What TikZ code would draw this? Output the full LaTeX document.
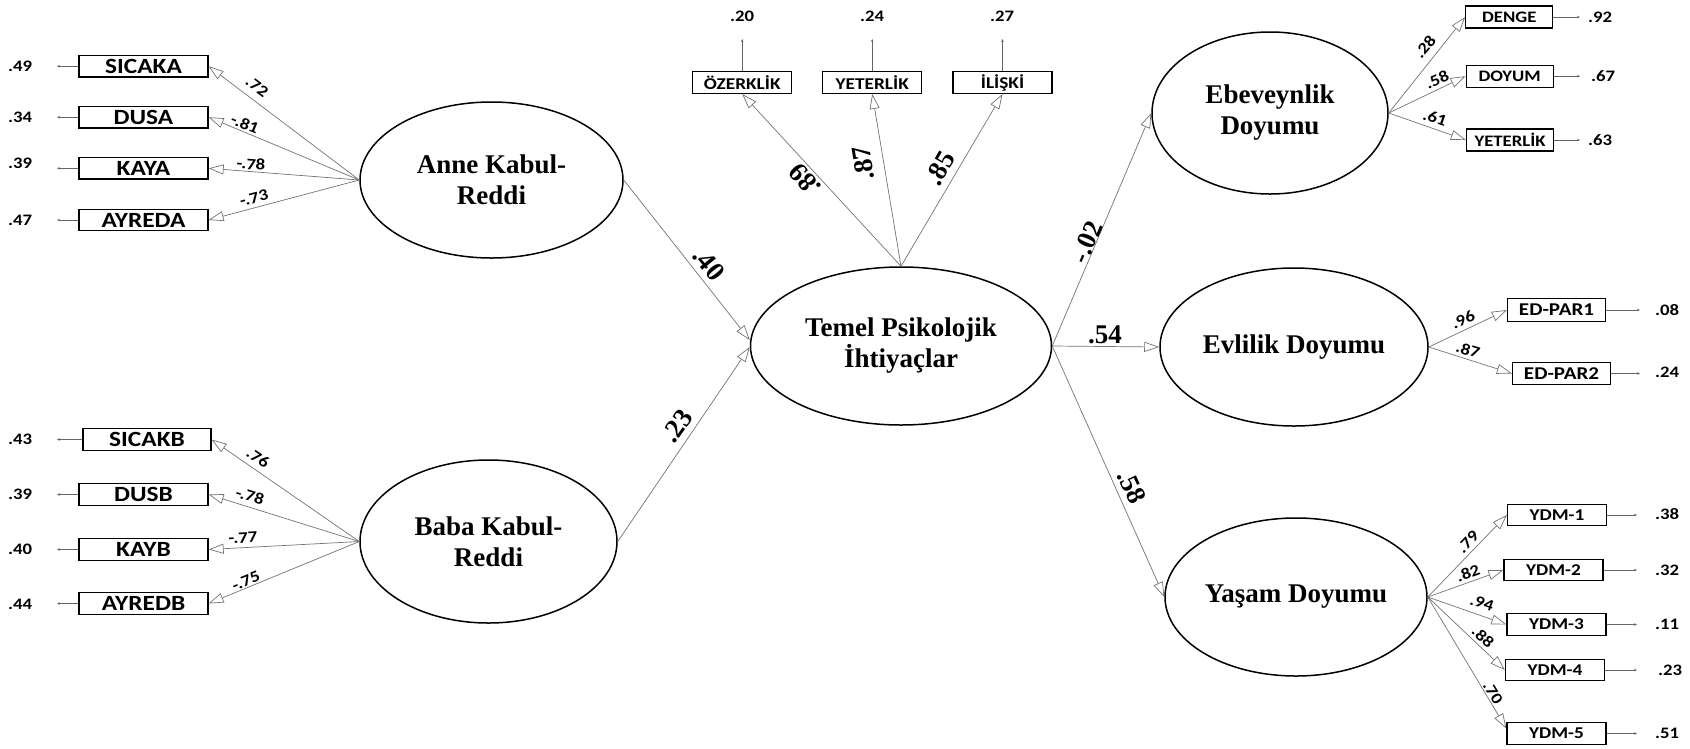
\documentclass[tikz,border=0pt]{standalone}
\usepackage{fontspec}
\setmainfont{Liberation Serif}
\newfontfamily\cb[FakeStretch=1.17]{Carlito}
\usetikzlibrary{shapes.geometric,arrows.meta}
\begin{document}
\begin{tikzpicture}[x=1pt,y=-1pt,
  lat/.style={ellipse,draw,line width=1.5pt,inner sep=0pt,align=center,
    font=\fontsize{27}{31}\selectfont\bfseries},
  obsL/.style={draw,line width=1.3pt,inner sep=0pt,minimum width=129pt,minimum height=21.5pt,
    font=\cb\fontsize{21.7}{22}\selectfont\bfseries},
  obsT/.style={draw,line width=1.3pt,inner sep=0pt,minimum width=99pt,minimum height=21.6pt,
    font=\cb\fontsize{16.5}{17}\selectfont\bfseries},
  obsE/.style={draw,line width=1.3pt,inner sep=0pt,minimum width=87pt,minimum height=22pt,
    font=\cb\fontsize{16}{17}\selectfont\bfseries},
  obsD/.style={draw,line width=1.3pt,inner sep=0pt,minimum width=98pt,minimum height=22.5pt,
    font=\cb\fontsize{18}{19}\selectfont\bfseries},
  obsY/.style={draw,line width=1.3pt,inner sep=0pt,minimum width=99pt,minimum height=21.5pt,
    font=\cb\fontsize{16.5}{17}\selectfont\bfseries},
  lnk/.style={draw=black!55,line width=0.7pt,-{Triangle[length=15pt,width=10pt,fill=white]}},
  res/.style={draw=black!60,line width=0.8pt,-{Stealth[length=3pt,width=2.5pt]}},
  cf/.style={inner sep=0pt,font=\fontsize{27}{27}\selectfont\bfseries},
  lf/.style={inner sep=0pt,font=\cb\fontsize{16}{16}\selectfont\bfseries}
]
\useasboundingbox (0,0) rectangle (1690,748);

% latent variables
\node[lat,minimum width=263pt,minimum height=156pt] (anne) at (491.5,180) {Anne Kabul-\\Reddi};
\node[lat,minimum width=257pt,minimum height=163pt] (baba) at (488.5,541.5) {Baba Kabul-\\Reddi};
\node[lat,minimum width=301pt,minimum height=158pt] (temel) at (901,346) {Temel Psikolojik\\İhtiyaçlar};
\node[lat,minimum width=236pt,minimum height=162pt] (ebe) at (1270,113) {Ebeveynlik\\Doyumu};
\node[lat,minimum width=268pt,minimum height=158pt] (evl) at (1294,347) {Evlilik Doyumu};
\node[lat,minimum width=262pt,minimum height=158pt] (yas) at (1296,597) {Yaşam Doyumu};

% left indicators
\node[obsL] (sicaka) at (143.5,66.2) {SICAKA};
\node[obsL] (dusa) at (143.5,117.2) {DUSA};
\node[obsL] (kaya) at (143.5,168.3) {KAYA};
\node[obsL] (ayreda) at (143.5,220) {AYREDA};
\node[obsL,minimum width=128pt] (sicakb) at (147,439.5) {SICAKB};
\node[obsL] (dusb) at (143.5,494.5) {DUSB};
\node[obsL] (kayb) at (143.5,549.5) {KAYB};
\node[obsL] (ayredb) at (143.5,603.5) {AYREDB};

% top indicators
\node[obsT] (ozer) at (742.2,82.5) {ÖZERKLİK};
\node[obsT] (yet) at (872.2,82.5) {YETERLİK};
\node[obsT] (ili) at (1002.5,82.5) {İLİŞKİ};

% right indicators
\node[obsE] (denge) at (1509.3,17) {DENGE};
\node[obsE] (doyum) at (1509.7,76.2) {DOYUM};
\node[obsE] (yetb) at (1510,140) {YETERLİK};
\node[obsD] (edp1) at (1556.5,310) {ED-PAR1};
\node[obsD] (edp2) at (1561.5,373.5) {ED-PAR2};
\node[obsY] (y1) at (1557,515) {YDM-1};
\node[obsY] (y2) at (1553.5,570) {YDM-2};
\node[obsY] (y3) at (1556.5,624.5) {YDM-3};
\node[obsY] (y4) at (1555,670) {YDM-4};
\node[obsY] (y5) at (1556.5,733.5) {YDM-5};

% loadings
\draw[lnk] (anne.west) -- (sicaka.east);
\draw[lnk] (anne.west) -- (dusa.east);
\draw[lnk] (anne.west) -- (kaya.east);
\draw[lnk] (anne.west) -- (ayreda.east);
\draw[lnk] (baba.west) -- (sicakb.east);
\draw[lnk] (baba.west) -- (dusb.east);
\draw[lnk] (baba.west) -- (kayb.east);
\draw[lnk] (baba.west) -- (ayredb.east);
\draw[lnk] (temel.north) -- (ozer.south);
\draw[lnk] (temel.north) -- (yet.south);
\draw[lnk] (temel.north) -- (ili.south);
\draw[lnk] (ebe.east) -- (denge.west);
\draw[lnk] (ebe.east) -- (doyum.west);
\draw[lnk] (ebe.east) -- (yetb.west);
\draw[lnk] (evl.east) -- (edp1.west);
\draw[lnk] (evl.east) -- (edp2.west);
\draw[lnk] (yas.east) -- (y1.west);
\draw[lnk] (yas.east) -- (y2.west);
\draw[lnk] (yas.east) -- (y3.west);
\draw[lnk] (yas.east) -- (y4.west);
\draw[lnk] (yas.east) -- ([yshift=5pt]y5.west);

% structural paths
\draw[lnk] (anne.east) -- ([yshift=6pt]temel.west);
\draw[lnk] (baba.east) -- ([yshift=-1pt]temel.west);
\draw[lnk] (temel.east) -- (ebe.west);
\draw[lnk] (temel.east) -- (evl.west);
\draw[lnk] (temel.east) -- (yas.west);

% residual arrows
\coordinate (ea1) at (57,66.2);
\coordinate (ea2) at (57,117.2);
\coordinate (ea3) at (57,168.3);
\coordinate (ea4) at (57,220);
\coordinate (eb1) at (57,439.5);
\coordinate (eb2) at (57,494.5);
\coordinate (eb3) at (57,549.5);
\coordinate (eb4) at (57,603.5);
\coordinate (et1) at (742.2,39);
\coordinate (et2) at (872.2,39);
\coordinate (et3) at (1002.5,39);
\coordinate (ee1) at (1580,17);
\coordinate (ee2) at (1580,76.2);
\coordinate (ee3) at (1580,140);
\coordinate (ed1) at (1640,310);
\coordinate (ed2) at (1640,373.5);
\coordinate (ey1) at (1637,515);
\coordinate (ey2) at (1637,570);
\coordinate (ey3) at (1637,624.5);
\coordinate (ey4) at (1637,670);
\coordinate (ey5) at (1637,733.5);
\draw[res] (sicaka.west) -- (ea1);
\draw[res] (dusa.west) -- (ea2);
\draw[res] (kaya.west) -- (ea3);
\draw[res] (ayreda.west) -- (ea4);
\draw[res] (sicakb.west) -- (eb1);
\draw[res] (dusb.west) -- (eb2);
\draw[res] (kayb.west) -- (eb3);
\draw[res] (ayredb.west) -- (eb4);
\draw[res] (ozer.north) -- (et1);
\draw[res] (yet.north) -- (et2);
\draw[res] (ili.north) -- (et3);
\draw[res] (denge.east) -- (ee1);
\draw[res] (doyum.east) -- (ee2);
\draw[res] (yetb.east) -- (ee3);
\draw[res] (edp1.east) -- (ed1);
\draw[res] (edp2.east) -- (ed2);
\draw[res] (y1.east) -- (ey1);
\draw[res] (y2.east) -- (ey2);
\draw[res] (y3.east) -- (ey3);
\draw[res] (y4.east) -- (ey4);
\draw[res] (y5.east) -- (ey5);

% residual labels
\node[lf] (ra1) at (20,66) {.49};
\node[lf] (ra2) at (20,117.5) {.34};
\node[lf] (ra3) at (20,163) {.39};
\node[lf] (ra4) at (20,220.5) {.47};
\node[lf] (rb1) at (20,439) {.43};
\node[lf] (rb2) at (20,494) {.39};
\node[lf] (rb3) at (20,549) {.40};
\node[lf] (rb4) at (20,604) {.44};
\node[lf] (rt1) at (742,16) {.20};
\node[lf] (rt2) at (872,16) {.24};
\node[lf] (rt3) at (1002,16) {.27};
\node[lf] (re1) at (1600,17) {.92};
\node[lf] (re2) at (1603,76) {.67};
\node[lf] (re3) at (1600,140) {.63};
\node[lf] (rd1) at (1667,310) {.08};
\node[lf] (rd2) at (1667,372) {.24};
\node[lf] (ry1) at (1667,514) {.38};
\node[lf] (ry2) at (1667,570) {.32};
\node[lf] (ry3) at (1667,624) {.11};
\node[lf] (ry4) at (1670,670) {.23};
\node[lf] (ry5) at (1667,733) {.51};

% loading labels
\node[lf,rotate=-37] (la1) at (257,87) {.72};
\node[lf,rotate=-22] (la2) at (245,124) {-.81};
\node[lf,rotate=-4] (la3) at (251,164) {-.78};
\node[lf,rotate=15] (la4) at (254,198) {-.73};
\node[lf,rotate=-34] (lb1) at (258,458) {.76};
\node[lf,rotate=-17] (lb2) at (250,496) {-.78};
\node[lf,rotate=3] (lb3) at (243,538) {-.77};
\node[lf,rotate=22] (lb4) at (246,581) {-.75};
\node[lf,rotate=50] (le1) at (1425,47) {.28};
\node[lf,rotate=24] (le2) at (1437,80) {.58};
\node[lf,rotate=-19] (le3) at (1435,118) {.61};
\node[lf,rotate=25] (ld1) at (1463,320) {.96};
\node[lf,rotate=-17] (ld2) at (1468,350) {.87};
\node[lf,rotate=46] (ly1) at (1468,542) {.79};
\node[lf,rotate=20] (ly2) at (1468,573) {.82};
\node[lf,rotate=-19] (ly3) at (1482,603) {.94};
\node[lf,rotate=-43] (ly4) at (1483,637) {.88};
\node[lf,rotate=-59] (ly5) at (1493,693) {.70};

% structural / top coefficients
\node[cf,rotate=132] (c1) at (805,180) {.89};
\node[cf,rotate=99] (c2) at (863,163) {.87};
\node[cf,rotate=60] (c3) at (940,168) {.85};
\node[cf,rotate=-51] (c4) at (709,264) {.40};
\node[cf,rotate=55] (c5) at (677,426) {.23};
\node[cf,rotate=67] (c6) at (1087,242) {-.02};
\node[cf] (c7) at (1105,335) {.54};
\node[cf,rotate=-65] (c8) at (1132,487) {.58};
\end{tikzpicture}
\end{document}
